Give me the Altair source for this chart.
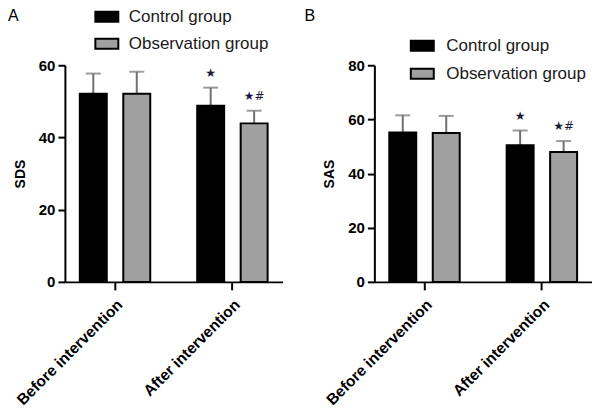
import altair as alt
import pandas as pd

phases = ["Before intervention", "After intervention"]
groups = ["Control group", "Observation group"]

# order: (before, control), (before, observation), (after, control), (after, observation)
sds_mean = [52.1, 52.1, 48.8, 43.9]
sds_sd = [5.6, 6.1, 5.0, 3.5]
sas_mean = [55.2, 55.0, 50.5, 48.0]
sas_sd = [6.3, 6.3, 5.4, 4.0]
sig_marks = ["", "", "★", "★#"]


def frame(means, sds, marks):
    rows = []
    i = 0
    for p in phases:
        for g in groups:
            rows.append(dict(phase=p, group=g, mean=means[i],
                             top=round(means[i] + sds[i], 2), mark=marks[i]))
            i += 1
    return pd.DataFrame(rows)


FONT = "Liberation Sans"
ERR = "#707070"


def panel(df, title, ymax, yvals, letter, letter_x, lx, ly, loff, lrow):
    base = alt.Chart(df)
    x = alt.X("phase:N", sort=phases, title=None,
              scale=alt.Scale(paddingInner=0.4, paddingOuter=0.127),
              axis=alt.Axis(labelAngle=-45, labelFont=FONT, labelFontSize=15.5,
                            labelFontWeight="bold", labelColor="black",
                            labelPadding=7, tickSize=8, tickWidth=2,
                            tickColor="black", domainWidth=2,
                            domainColor="black", labelLimit=300))
    xo = alt.XOffset("group:N", sort=groups,
                     scale=alt.Scale(paddingInner=0.38, paddingOuter=0))
    yaxis = alt.Axis(values=yvals, labelFont=FONT, labelFontSize=15,
                     labelFontWeight="bold", labelColor="black",
                     labelPadding=3, tickSize=7, tickWidth=2,
                     tickColor="black", domainWidth=2, domainColor="black",
                     titleFont=FONT, titleFontSize=14, titleFontWeight="bold",
                     titleColor="black", titlePadding=11, grid=False)
    yscale = alt.Scale(domain=[0, ymax], nice=False)
    y_mean = alt.Y("mean:Q", title=title, scale=yscale, axis=yaxis)
    y_top = alt.Y("top:Q", title=title, scale=yscale, axis=yaxis)

    rule = base.mark_rule(color=ERR, strokeWidth=2).encode(
        x=x, xOffset=xo, y=y_mean, y2="top:Q")
    bars = base.mark_bar(stroke="black", strokeWidth=2).encode(
        x=x, xOffset=xo, y=y_mean,
        fill=alt.Fill("group:N", sort=groups,
                      scale=alt.Scale(domain=groups, range=["black", "#a0a0a0"]),
                      legend=alt.Legend(title=None, orient="none",
                                        legendX=lx, legendY=ly, padding=0,
                                        symbolType="M-2.3,-1H2.3V1H-2.3Z",
                                        symbolSize=100, symbolStrokeColor="black",
                                        symbolStrokeWidth=2, symbolOpacity=1,
                                        labelFont=FONT, labelFontSize=17,
                                        labelColor="#1a1a1a", labelOffset=loff,
                                        rowPadding=lrow)))
    cap = base.mark_tick(color=ERR, thickness=2, size=15).encode(
        x=x, xOffset=xo, y=y_top)
    stars = base.mark_text(font="DejaVu Sans", fontSize=12, color="#1b1b3a",
                           dy=-15).encode(x=x, xOffset=xo, y=y_top, text="mark:N")
    lab = alt.Chart(pd.DataFrame({"t": [letter]})).mark_text(
        font=FONT, fontSize=16, color="black", align="left", baseline="top"
    ).encode(x=alt.value(letter_x), y=alt.value(-57), text="t:N")
    return alt.layer(rule, bars, cap, stars, lab).properties(width=218, height=217)


a = panel(frame(sds_mean, sds_sd, sig_marks), "SDS", 60, [0, 20, 40, 60],
          "A", -57, 33.5, -57, 13.5, 8)
b = panel(frame(sas_mean, sas_sd, sig_marks), "SAS", 80, [0, 20, 40, 60, 80],
          "B", -70, 39.5, -28, 15.5, 9)

chart = alt.hconcat(a, b, spacing=92, bounds="flush").resolve_scale(
    fill="independent", y="independent", x="independent"
).resolve_legend(fill="independent").properties(padding=0).configure_view(
    stroke=None)

chart.save("out.html", embed_options={"renderer": "svg", "actions": False})
